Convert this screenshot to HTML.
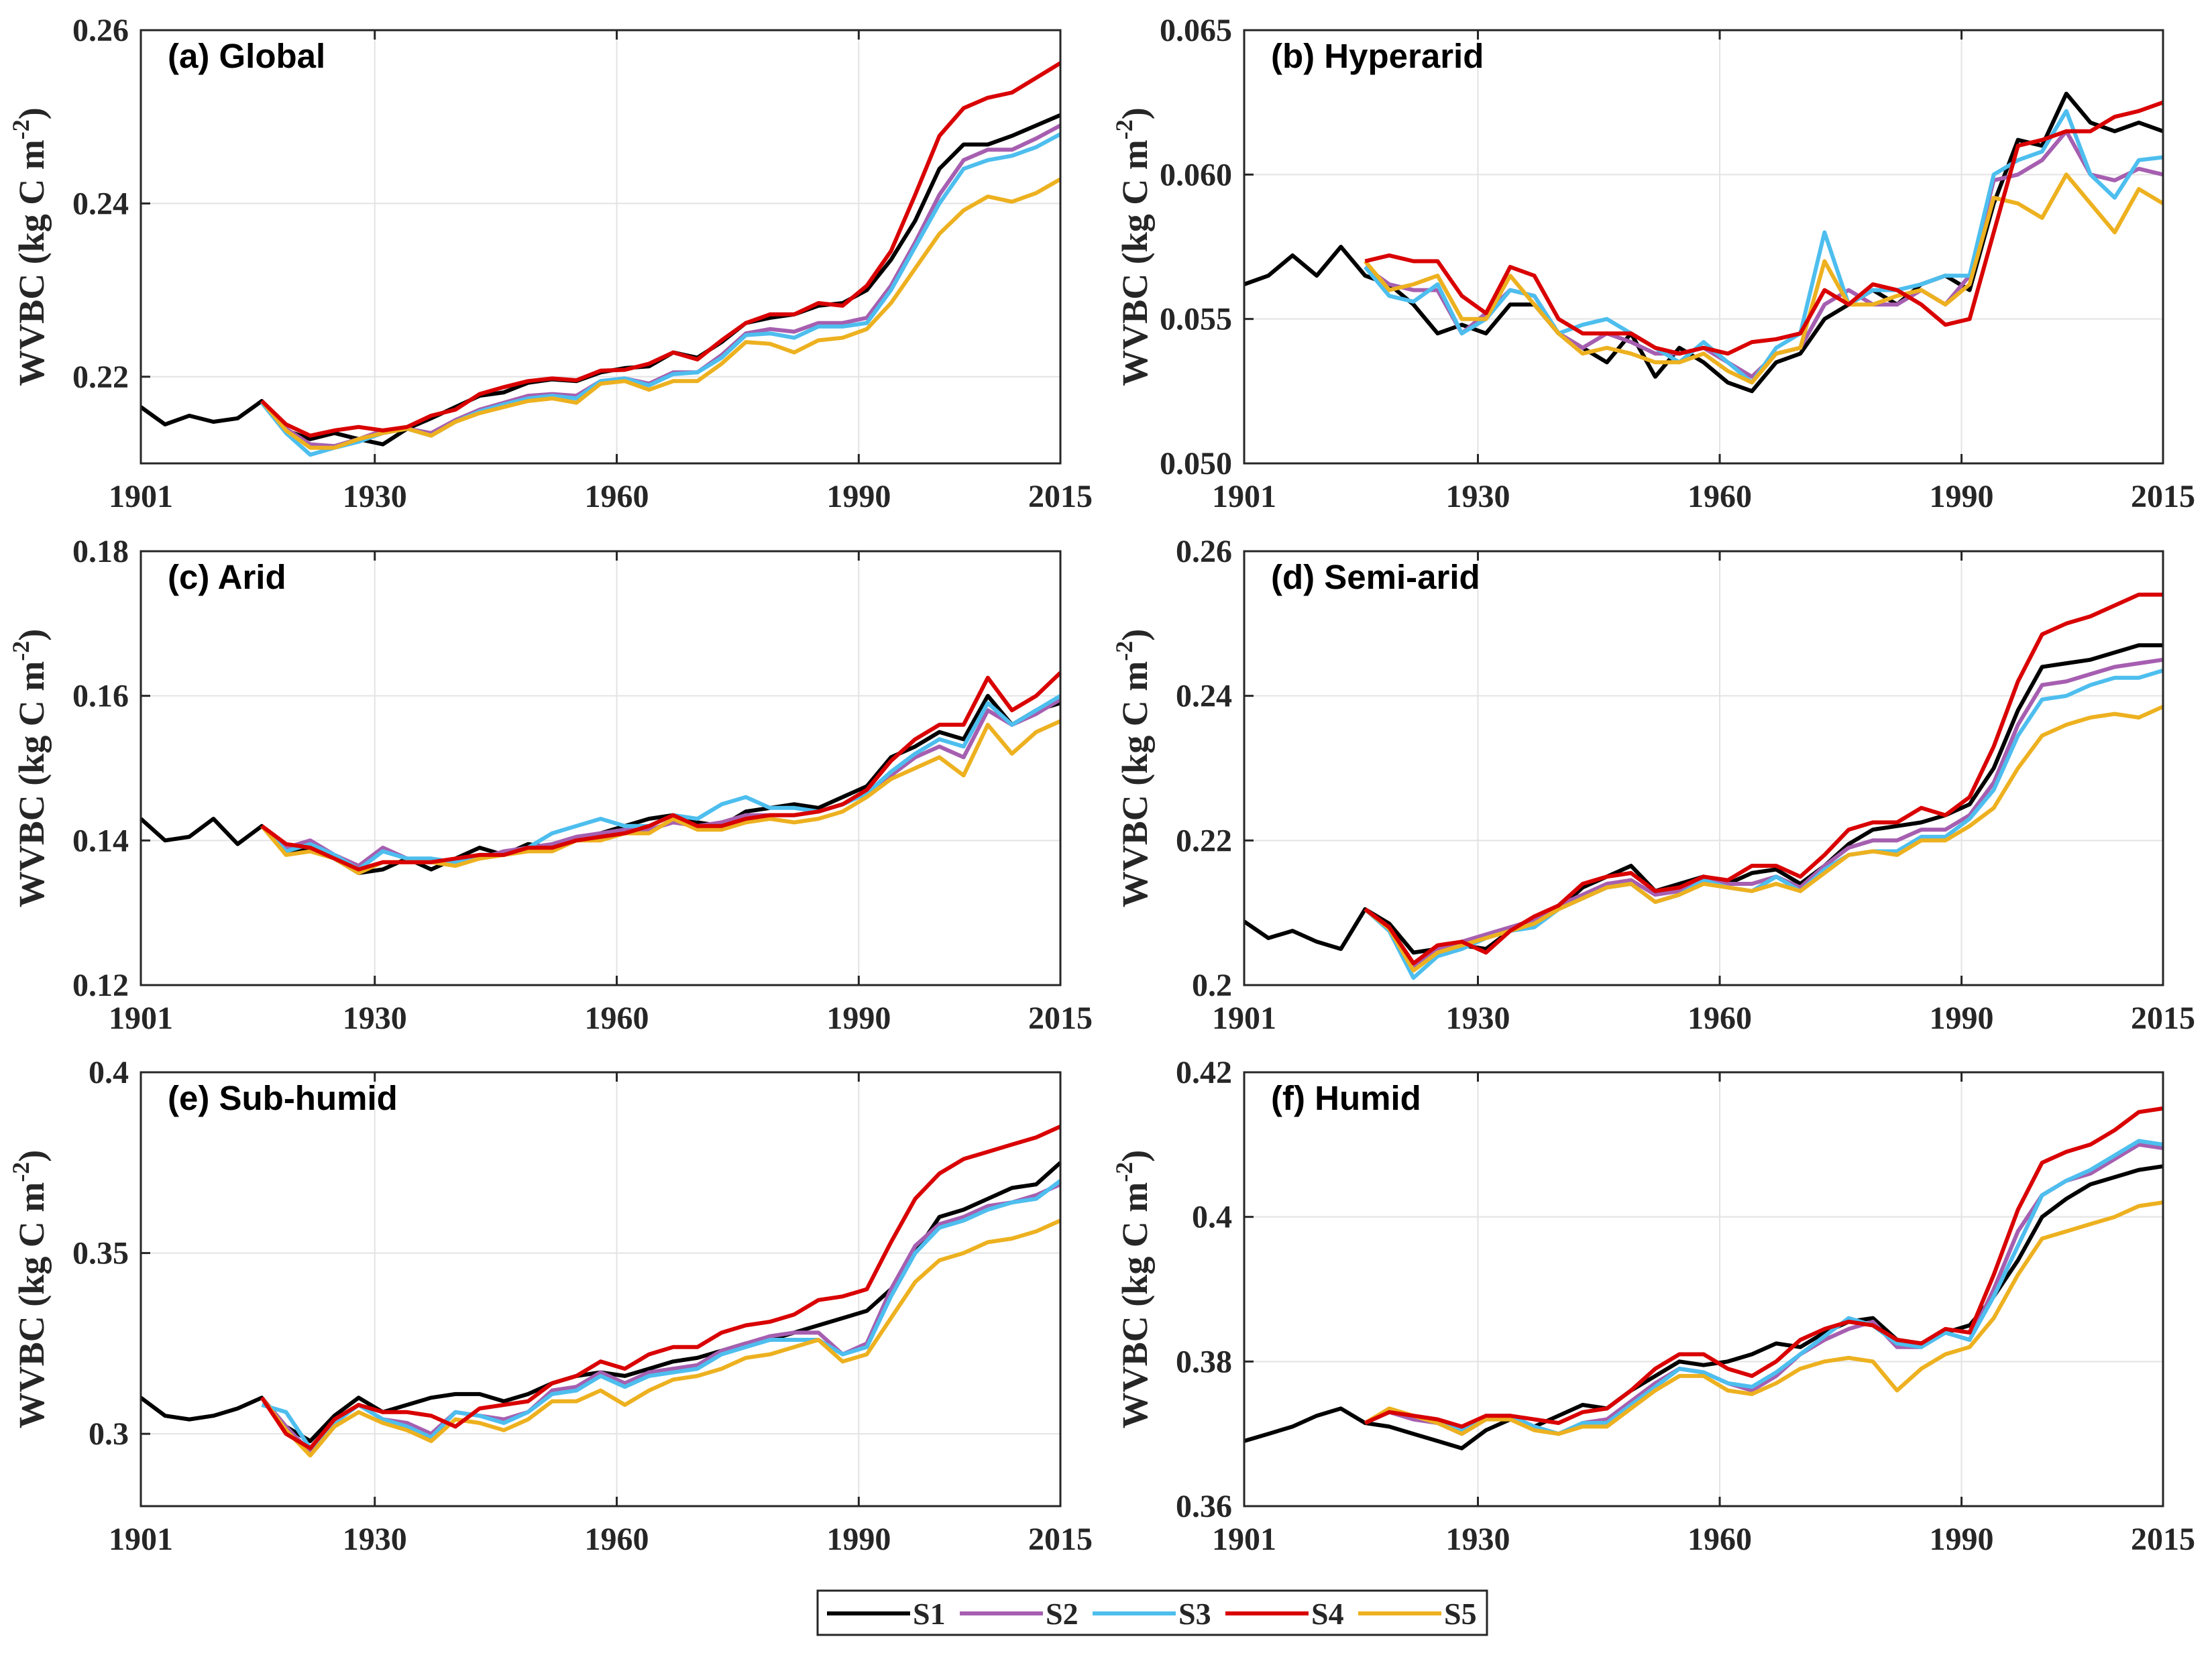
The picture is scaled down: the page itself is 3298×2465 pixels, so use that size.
<!DOCTYPE html>
<html><head><meta charset="utf-8"><style>
html,body{margin:0;padding:0;background:#fff}
svg{display:block}
text{font-family:"Liberation Serif",serif;font-weight:bold;fill:#262626}
.ttl{font-family:"Liberation Sans",sans-serif;fill:#000}
</style></head><body>
<svg id="fig" xmlns="http://www.w3.org/2000/svg" width="3298" height="2465" viewBox="0 0 3298 2465"></svg>
<script>
const years=[1901,1904,1907,1910,1913,1916,1919,1922,1925,1928,1931,1934,1937,1940,1943,1946,1949,1952,1955,1958,1961,1964,1967,1970,1973,1976,1979,1982,1985,1988,1991,1994,1997,2000,2003,2006,2009,2012,2015];
const seriesNames=["S1","S2","S3","S4","S5"];
const seriesColors=["#000000","#a65fb0","#4dbeee","#d90000","#edb120"];
// Panel (a) Global
const a_S1=[.2165,.2145,.2155,.2148,.2152,.2172,.2138,.2128,.2135,.2128,.2122,.2140,.2152,.2165,.2178,.2182,.2193,.2197,.2195,.2205,.2210,.2212,.2228,.2222,.2240,.2262,.2268,.2272,.2282,.2285,.2300,.2335,.2380,.2440,.2468,.2468,.2478,.2490,.2502];
const a_S2=[.2172,.2140,.2122,.2120,.2128,.2138,.2140,.2135,.2150,.2162,.2170,.2178,.2180,.2178,.2195,.2198,.2192,.2205,.2205,.2225,.2250,.2255,.2252,.2262,.2262,.2268,.2305,.2355,.2410,.2450,.2462,.2462,.2475,.2490];
const a_S3=[.2170,.2135,.2110,.2118,.2125,.2135,.2140,.2132,.2148,.2160,.2168,.2175,.2178,.2175,.2195,.2198,.2190,.2203,.2205,.2222,.2248,.2250,.2245,.2258,.2258,.2262,.2300,.2350,.2400,.2440,.2450,.2455,.2465,.2480];
const a_S4=[.2172,.2145,.2132,.2138,.2142,.2138,.2142,.2155,.2162,.2180,.2188,.2195,.2198,.2196,.2207,.2208,.2215,.2228,.2220,.2242,.2262,.2272,.2272,.2285,.2282,.2305,.2345,.2410,.2478,.2510,.2522,.2528,.2545,.2562];
const a_S5=[.2172,.2138,.2118,.2118,.2128,.2135,.2140,.2132,.2148,.2158,.2165,.2172,.2175,.2170,.2192,.2195,.2185,.2195,.2195,.2215,.2240,.2238,.2228,.2242,.2245,.2255,.2285,.2325,.2365,.2392,.2408,.2402,.2412,.2428];
// Panel (b) Hyperarid
const b_S1=[.0562,.0565,.0572,.0565,.0575,.0565,.0562,.0555,.0545,.0548,.0545,.0555,.0555,.0545,.0540,.0535,.0545,.0530,.0540,.0535,.0528,.0525,.0535,.0538,.0550,.0555,.0560,.0555,.0562,.0565,.0560,.0590,.0612,.0610,.0628,.0618,.0615,.0618,.0615];
const b_S2=[.0568,.0562,.0560,.0560,.0545,.0552,.0560,.0558,.0545,.0540,.0545,.0542,.0538,.0538,.0540,.0535,.0530,.0538,.0540,.0555,.0560,.0555,.0555,.0560,.0555,.0565,.0598,.0600,.0605,.0615,.0600,.0598,.0602,.0600];
const b_S3=[.0568,.0558,.0556,.0562,.0545,.0550,.0560,.0558,.0545,.0548,.0550,.0545,.0540,.0535,.0542,.0535,.0528,.0540,.0545,.0580,.0555,.0560,.0560,.0562,.0565,.0565,.0600,.0605,.0608,.0622,.0600,.0592,.0605,.0606];
const b_S4=[.0570,.0572,.0570,.0570,.0558,.0552,.0568,.0565,.0550,.0545,.0545,.0545,.0540,.0538,.0540,.0538,.0542,.0543,.0545,.0560,.0555,.0562,.0560,.0555,.0548,.0550,.0580,.0610,.0612,.0615,.0615,.0620,.0622,.0625];
const b_S5=[.0570,.0560,.0562,.0565,.0550,.0550,.0565,.0555,.0545,.0538,.0540,.0538,.0535,.0535,.0538,.0532,.0528,.0538,.0540,.0570,.0555,.0555,.0558,.0560,.0555,.0562,.0592,.0590,.0585,.0600,.0590,.0580,.0595,.0590];
// Panel (c) Arid
const c_S1=[.1430,.1400,.1405,.1430,.1395,.1420,.1385,.1390,.1375,.1355,.1360,.1375,.1360,.1375,.1390,.1380,.1395,.1390,.1400,.1410,.1420,.1430,.1435,.1425,.1420,.1440,.1445,.1450,.1445,.1460,.1475,.1515,.1530,.1550,.1540,.1600,.1560,.1580,.1590];
const c_S2=[.1420,.1390,.1400,.1380,.1365,.1390,.1375,.1370,.1370,.1375,.1385,.1390,.1395,.1405,.1410,.1415,.1415,.1425,.1420,.1425,.1435,.1435,.1435,.1440,.1450,.1465,.1490,.1515,.1530,.1515,.1580,.1560,.1575,.1595];
const c_S3=[.1420,.1385,.1395,.1380,.1360,.1385,.1375,.1375,.1370,.1380,.1380,.1390,.1410,.1420,.1430,.1420,.1420,.1435,.1430,.1450,.1460,.1445,.1445,.1440,.1450,.1465,.1495,.1520,.1540,.1530,.1590,.1560,.1580,.1600];
const c_S4=[.1420,.1395,.1390,.1375,.1360,.1370,.1370,.1370,.1375,.1380,.1380,.1390,.1390,.1400,.1405,.1410,.1420,.1435,.1420,.1420,.1430,.1435,.1435,.1440,.1450,.1470,.1510,.1540,.1560,.1560,.1625,.1580,.1600,.1632];
const c_S5=[.1420,.1380,.1385,.1375,.1355,.1370,.1370,.1370,.1365,.1375,.1380,.1385,.1385,.1400,.1400,.1410,.1410,.1430,.1415,.1415,.1425,.1430,.1425,.1430,.1440,.1460,.1485,.1500,.1515,.1490,.1560,.1520,.1550,.1565];
// Panel (d) Semi-arid
const d_S1=[.2088,.2065,.2075,.2060,.2050,.2105,.2085,.2045,.2050,.2055,.2050,.2075,.2090,.2105,.2135,.2150,.2165,.2130,.2140,.2150,.2140,.2155,.2160,.2140,.2165,.2195,.2215,.2220,.2225,.2235,.2250,.2300,.2380,.2440,.2445,.2450,.2460,.2470,.2470];
const d_S2=[.2105,.2080,.2025,.2050,.2060,.2070,.2080,.2090,.2110,.2125,.2140,.2145,.2125,.2130,.2150,.2140,.2140,.2150,.2135,.2165,.2190,.2200,.2200,.2215,.2215,.2235,.2280,.2360,.2415,.2420,.2430,.2440,.2445,.2450];
const d_S3=[.2105,.2075,.2010,.2040,.2050,.2065,.2075,.2080,.2105,.2120,.2135,.2140,.2115,.2125,.2145,.2135,.2130,.2150,.2130,.2160,.2180,.2185,.2185,.2205,.2205,.2230,.2270,.2345,.2395,.2400,.2415,.2425,.2425,.2435];
const d_S4=[.2105,.2080,.2030,.2055,.2060,.2045,.2075,.2095,.2110,.2140,.2150,.2155,.2130,.2135,.2150,.2145,.2165,.2165,.2150,.2180,.2215,.2225,.2225,.2245,.2235,.2260,.2330,.2420,.2485,.2500,.2510,.2525,.2540,.2540];
const d_S5=[.2105,.2078,.2020,.2045,.2055,.2065,.2075,.2085,.2105,.2120,.2135,.2140,.2115,.2125,.2140,.2135,.2130,.2140,.2130,.2155,.2180,.2185,.2180,.2200,.2200,.2220,.2245,.2300,.2345,.2360,.2370,.2375,.2370,.2385];
// Panel (e) Sub-humid
const e_S1=[.3100,.3050,.3040,.3050,.3070,.3100,.3020,.2980,.3050,.3100,.3060,.3080,.3100,.3110,.3110,.3090,.3110,.3140,.3160,.3170,.3160,.3180,.3200,.3210,.3230,.3250,.3260,.3280,.3300,.3320,.3340,.3400,.3500,.3600,.3620,.3650,.3680,.3690,.3750];
const e_S2=[.3100,.3020,.2950,.3030,.3080,.3040,.3030,.3000,.3060,.3050,.3040,.3060,.3120,.3130,.3170,.3140,.3170,.3180,.3190,.3230,.3250,.3270,.3280,.3280,.3220,.3250,.3400,.3520,.3580,.3600,.3630,.3640,.3660,.3690];
const e_S3=[.3080,.3060,.2960,.3030,.3080,.3040,.3020,.2990,.3060,.3050,.3030,.3060,.3110,.3120,.3160,.3130,.3160,.3170,.3180,.3220,.3240,.3260,.3260,.3260,.3220,.3240,.3380,.3500,.3570,.3590,.3620,.3640,.3650,.3700];
const e_S4=[.3100,.3000,.2960,.3040,.3080,.3060,.3060,.3050,.3020,.3070,.3080,.3090,.3140,.3160,.3200,.3180,.3220,.3240,.3240,.3280,.3300,.3310,.3330,.3370,.3380,.3400,.3530,.3650,.3720,.3760,.3780,.3800,.3820,.3850];
const e_S5=[.3100,.3010,.2940,.3020,.3060,.3030,.3010,.2980,.3040,.3030,.3010,.3040,.3090,.3090,.3120,.3080,.3120,.3150,.3160,.3180,.3210,.3220,.3240,.3260,.3200,.3220,.3320,.3420,.3480,.3500,.3530,.3540,.3560,.3590];
// Panel (f) Humid
const f_S1=[.3690,.3700,.3710,.3725,.3735,.3715,.3710,.3700,.3690,.3680,.3705,.3720,.3710,.3725,.3740,.3735,.3760,.3780,.3800,.3795,.3800,.3810,.3825,.3820,.3840,.3855,.3860,.3830,.3825,.3840,.3850,.3890,.3940,.4000,.4025,.4045,.4055,.4065,.4070];
const f_S2=[.3715,.3730,.3720,.3715,.3700,.3720,.3725,.3710,.3700,.3715,.3720,.3745,.3770,.3790,.3785,.3770,.3760,.3780,.3810,.3830,.3845,.3855,.3820,.3820,.3840,.3830,.3900,.3980,.4030,.4050,.4060,.4080,.4100,.4095];
const f_S3=[.3715,.3730,.3725,.3720,.3705,.3725,.3725,.3710,.3700,.3715,.3715,.3740,.3765,.3790,.3785,.3770,.3765,.3785,.3810,.3835,.3860,.3850,.3825,.3820,.3840,.3830,.3890,.3960,.4030,.4050,.4065,.4085,.4105,.4100];
const f_S4=[.3715,.3730,.3725,.3720,.3710,.3725,.3725,.3720,.3715,.3730,.3735,.3760,.3790,.3810,.3810,.3790,.3780,.3800,.3830,.3845,.3855,.3850,.3830,.3825,.3845,.3840,.3920,.4010,.4075,.4090,.4100,.4120,.4145,.4150];
const f_S5=[.3715,.3735,.3725,.3715,.3700,.3720,.3720,.3705,.3700,.3710,.3710,.3735,.3760,.3780,.3780,.3760,.3755,.3770,.3790,.3800,.3805,.3800,.3760,.3790,.3810,.3820,.3860,.3920,.3970,.3980,.3990,.4000,.4015,.4020];

const xTickYears=[1901,1930,1960,1990,2015];
const panelTitles=["(a)","(b)","(c)","(d)","(e)","(f)"];
const panelNames=["Global","Hyperarid","Arid","Semi-arid","Sub-humid","Humid"];
const yMins=[0.21,0.050,0.12,0.20,0.28,0.36];
const yMaxs=[0.26,0.065,0.18,0.26,0.40,0.42];
const yTicks=[[0.22,0.24,0.26],[0.050,0.055,0.060,0.065],[0.12,0.14,0.16,0.18],[0.20,0.22,0.24,0.26],[0.30,0.35,0.40],[0.36,0.38,0.40,0.42]];
const yTickLabels=[["0.22","0.24","0.26"],["0.050","0.055","0.060","0.065"],["0.12","0.14","0.16","0.18"],["0.2","0.22","0.24","0.26"],["0.3","0.35","0.4"],["0.36","0.38","0.4","0.42"]];
const panelSeries=[[a_S1,a_S2,a_S3,a_S4,a_S5],[b_S1,b_S2,b_S3,b_S4,b_S5],[c_S1,c_S2,c_S3,c_S4,c_S5],[d_S1,d_S2,d_S3,d_S4,d_S5],[e_S1,e_S2,e_S3,e_S4,e_S5],[f_S1,f_S2,f_S3,f_S4,f_S5]];

const NS="http://www.w3.org/2000/svg";
const svg=document.getElementById('fig');
function mk(tag,attrs,parent){const e=document.createElementNS(NS,tag);for(const k in attrs)e.setAttribute(k,attrs[k]);(parent||svg).appendChild(e);return e;}
const colL=[210,1855],colR=[1581,3225],rowT=[45,822,1599],rowB=[691,1469,2246];
const drawOrder=[0,1,2,4,3];
for(let p=0;p<6;p++){
  const L=colL[p%2],R=colR[p%2],T=rowT[Math.floor(p/2)],B=rowB[Math.floor(p/2)];
  const g=mk('g',{});
  
  
  const xs=y=>L+(y-1901)/(2015-1901)*(R-L);
  const ys=v=>B-(v-yMins[p])/(yMaxs[p]-yMins[p])*(B-T);
  xTickYears.forEach(yr=>{
    if(yr>1901&&yr<2015){const gl=mk('line',{x1:xs(yr),x2:xs(yr),y1:T,y2:B,stroke:'#e3e3e3','stroke-width':2},g);}
  });
  yTicks[p].forEach(v=>{
    if(v>yMins[p]+1e-9&&v<yMaxs[p]-1e-9){const gl=mk('line',{x1:L,x2:R,y1:ys(v),y2:ys(v),stroke:'#e3e3e3','stroke-width':2},g);}
  });
  drawOrder.forEach(si=>{
    const arr=panelSeries[p][si];const off=years.length-arr.length;
    let d='';arr.forEach((v,i)=>{d+=(i?'L':'M')+xs(years[i+off]).toFixed(1)+','+ys(v).toFixed(1);});
    const pl=mk('path',{d:d,fill:'none',stroke:seriesColors[si],'stroke-width':6,'stroke-linejoin':'round'},g);
    
    
  });
  const bx=mk('rect',{x:L,y:T,width:R-L,height:B-T,fill:'none',stroke:'#262626','stroke-width':3},g);
  
  
  xTickYears.forEach(yr=>{
    mk('line',{x1:xs(yr),x2:xs(yr),y1:B,y2:B-14,stroke:'#262626','stroke-width':3},g);
    mk('line',{x1:xs(yr),x2:xs(yr),y1:T,y2:T+14,stroke:'#262626','stroke-width':3},g);
    const t=mk('text',{x:xs(yr),y:B+65,'text-anchor':'middle','font-size':48},g);
    t.textContent=yr;
    
    
  });
  yTicks[p].forEach((v,i)=>{
    mk('line',{x1:L,x2:L+14,y1:ys(v),y2:ys(v),stroke:'#262626','stroke-width':3},g);
    const t=mk('text',{x:L-18,y:ys(v)+16,'text-anchor':'end','font-size':48},g);
    t.textContent=yTickLabels[p][i];
    
    
  });
  const cx=L-145,cy=(T+B)/2;
  const yt=mk('text',{x:cx,y:cy,'text-anchor':'middle','font-size':54,transform:'rotate(-90 '+cx+' '+cy+')',fill:'#262626'},g);
  
  
  const s1=mk('tspan',{},yt);s1.textContent='WVBC (kg C m';
  const s2=mk('tspan',{dy:-22,'font-size':36},yt);s2.textContent='-2';
  const s3=mk('tspan',{dy:22},yt);s3.textContent=')';
  const tt=mk('text',{x:L+40,y:T+56,'font-size':51,'class':'ttl'},g);
  tt.textContent=panelTitles[p]+' '+panelNames[p];
  
  
}
const lg=mk('g',{});


mk('rect',{x:1219,y:2372,width:998,height:66,fill:'#fff',stroke:'#262626','stroke-width':3},lg);
seriesNames.forEach((n,i)=>{
  const x0=1233+i*198;
  const e=mk('g',{},lg);
  
  
  mk('line',{x1:x0,x2:x0+124,y1:2406,y2:2406,stroke:seriesColors[i],'stroke-width':6},e);
  const t=mk('text',{x:x0+128,y:2422,'font-size':46,fill:'#000'},e);
  t.textContent=n;
});
</script>
</body></html>
